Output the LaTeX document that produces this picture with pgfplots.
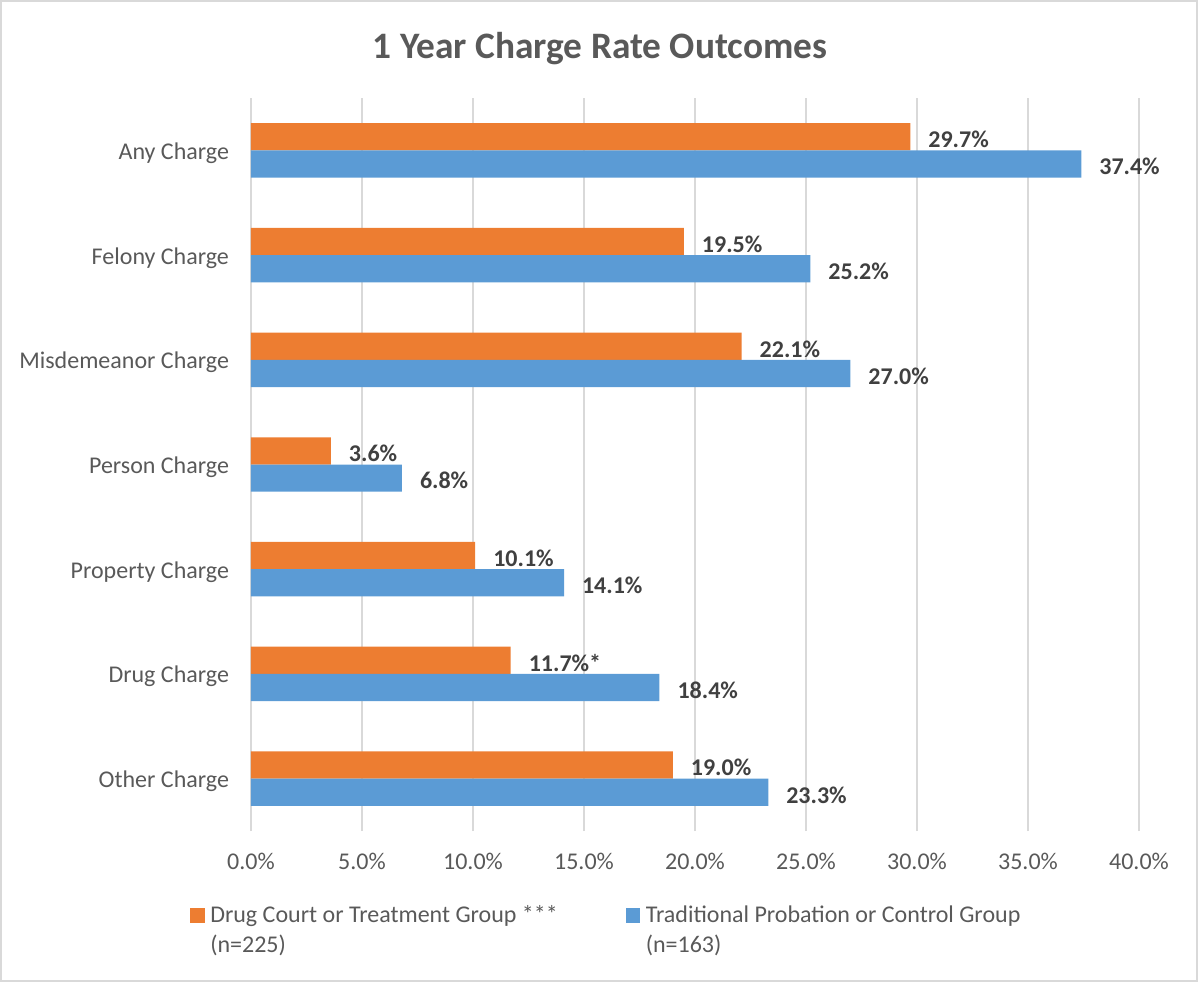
\documentclass[border=0pt]{standalone}
\usepackage{pgfplots}
\usepackage{pgfplotstable}
\pgfplotsset{compat=1.18}
\usepackage{fontspec}
\setmainfont{Carlito}
\definecolor{corange}{HTML}{ED7D31}
\definecolor{cblue}{HTML}{5B9BD5}
\definecolor{ctext}{HTML}{595959}
\definecolor{clabel}{HTML}{404040}
\definecolor{cgrid}{HTML}{D9D9D9}

\pgfplotstableread{
y val label
0 19.0 19.0\%
1 11.7 11.7\%*
2 10.1 10.1\%
3 3.6 3.6\%
4 22.1 22.1\%
5 19.5 19.5\%
6 29.7 29.7\%
}\treat

\pgfplotstableread{
y val label
0 23.3 23.3\%
1 18.4 18.4\%
2 14.1 14.1\%
3 6.8 6.8\%
4 27.0 27.0\%
5 25.2 25.2\%
6 37.4 37.4\%
}\control

\begin{document}
\begin{tikzpicture}
\useasboundingbox (-188.25pt,-113.25pt) rectangle (710.25pt,623.25pt);
\draw[cgrid, line width=1.2pt] (-187.65pt,-112.65pt) rectangle (709.65pt,622.65pt);
\begin{axis}[
  at={(0,0)}, anchor=south west,
  scale only axis, width=666pt, height=549.75pt,
  xbar, bar width=0.26,
  xmin=0, xmax=40, ymin=-0.5, ymax=6.5,
  xtick={0,5,10,15,20,25,30,35,40},
  xticklabels={0.0\%,5.0\%,10.0\%,15.0\%,20.0\%,25.0\%,30.0\%,35.0\%,40.0\%},
  ytick={0,1,2,3,4,5,6},
  yticklabels={Other Charge,Drug Charge,Property Charge,Person Charge,Misdemeanor Charge,Felony Charge,Any Charge},
  xmajorgrids, grid style={cgrid, line width=1.5pt},
  axis line style={draw=none}, major tick length=0pt,
  tick label style={font=\fontsize{18}{21.6}\selectfont, text=ctext},
  xticklabel style={yshift=-13pt},
  yticklabel style={xshift=-13pt, yshift=-2pt},
  title={1 Year Charge Rate Outcomes},
  title style={font=\bfseries\fontsize{28}{33}\selectfont, text=ctext,
    at={(axis description cs:0.393,1.056)}, anchor=center},
  point meta=explicit symbolic,
  nodes near coords,
  nodes near coords style={font=\bfseries\fontsize{18}{21.6}\selectfont, text=clabel, anchor=west, xshift=10pt, yshift=-2pt},
  legend style={draw=none, fill=none, inner sep=0pt,
    at={(axis description cs:-0.0687,-0.098)}, anchor=north west,
    font=\fontsize{18}{22.5}\selectfont, text=ctext,
    cells={align=left},
    /tikz/column 1/.style={column sep=2pt},
    /tikz/column 3/.style={column sep=2pt},
    /tikz/column 2/.style={column sep=49pt}},
  legend columns=2,
  legend cell align=left,
  legend image code/.code={\fill[#1] (0pt,5.75pt) rectangle (11pt,16.75pt);},
]
\addplot[fill=corange, draw=none, bar shift=0.13] table[x=val, y=y, meta=label] {\treat};
\addlegendentry{Drug Court or Treatment Group ***\\(n=225)}
\addplot[fill=cblue, draw=none, bar shift=-0.13] table[x=val, y=y, meta=label] {\control};
\addlegendentry{Traditional Probation or Control Group\\(n=163)}
\end{axis}
\end{tikzpicture}
\end{document}
